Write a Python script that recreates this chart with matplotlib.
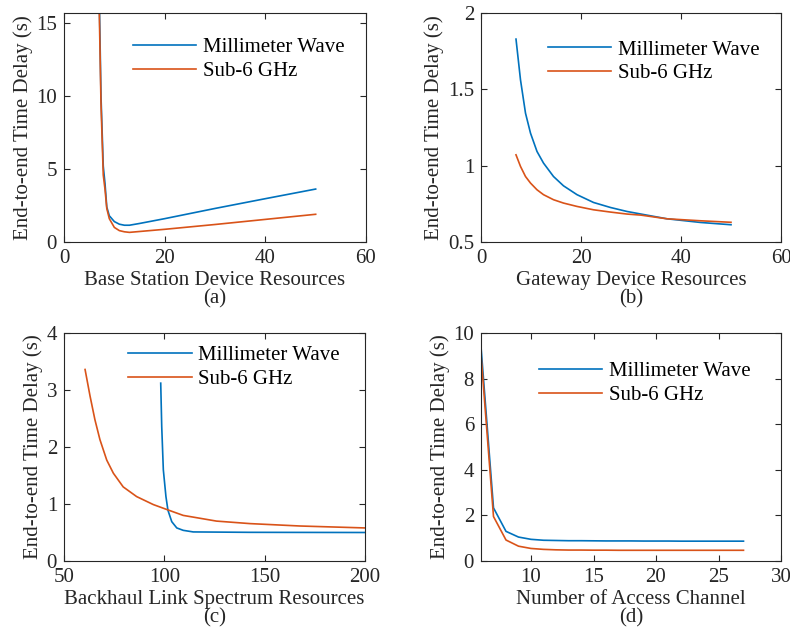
import numpy as np
import matplotlib
matplotlib.use("Agg")
import matplotlib.pyplot as plt

plt.rcParams["font.family"] = ["Liberation Serif", "DejaVu Serif"]
plt.rcParams["font.size"] = 15

BLUE = "#0072BD"
RED = "#D95319"
LABELS = ["Millimeter Wave", "Sub-6 GHz"]
YLABEL = "End-to-end Time Delay (s)"

# (a) base station device resources
bs_x = [7, 7.35, 7.8, 8.15, 8.5, 9, 10, 11, 12, 13, 15, 20, 30, 40, 50]
bs_mmw = [17, 10, 5.2, 4.0, 2.4, 1.8, 1.4, 1.22, 1.15, 1.15, 1.27, 1.6, 2.3, 2.97, 3.63]
bs_sub6 = [16, 9.5, 4.6, 3.6, 2.3, 1.6, 1.0, 0.78, 0.7, 0.66, 0.72, 0.87, 1.2, 1.55, 1.9]

# (b) gateway device resources
gw_x = [7, 7.9, 8.9, 9.9, 11.2, 12.5, 14.5, 16.5, 19.2, 22.5, 25.9, 29.2, 32, 37.2, 43.9, 50]
gw_mmw = [1.829, 1.562, 1.344, 1.213, 1.093, 1.017, 0.929, 0.868, 0.81, 0.759, 0.726,
          0.70, 0.683, 0.652, 0.628, 0.613]
gw_sub6 = [1.071, 0.995, 0.929, 0.886, 0.842, 0.81, 0.777, 0.755, 0.733, 0.711, 0.696,
           0.683, 0.676, 0.652, 0.639, 0.629]

# (c) backhaul link spectrum resources
bh_x_mmw = [98.2, 98.7, 99.5, 100.8, 101.8, 103.7, 106.2, 109.4, 114.4, 142.7, 200]
bh_mmw = [3.12, 2.36, 1.60, 1.13, 0.89, 0.69, 0.58, 0.538, 0.51, 0.503, 0.50]
bh_x_sub6 = [60.5, 63, 65.4, 67.9, 71.3, 74.6, 79.5, 86.2, 94.5, 101.5, 109.4, 126,
             142.7, 167.6, 200]
bh_sub6 = [3.36, 2.89, 2.48, 2.13, 1.77, 1.54, 1.30, 1.13, 0.99, 0.90, 0.80, 0.70,
           0.656, 0.614, 0.58]

# (d) number of access channel
ch_x = list(range(6, 28))
ch_mmw = [9.4, 2.33, 1.30, 1.05, 0.95, 0.91, 0.90, 0.89, 0.89, 0.885, 0.88, 0.88,
          0.88, 0.875, 0.875, 0.875, 0.87, 0.87, 0.87, 0.87, 0.87, 0.87]
ch_sub6 = [9.05, 1.95, 0.92, 0.65, 0.55, 0.51, 0.49, 0.48, 0.48, 0.475, 0.475, 0.47,
           0.47, 0.47, 0.47, 0.47, 0.47, 0.47, 0.47, 0.47, 0.47, 0.47]

W, H = 790, 638


def box(left, right, top, bottom):
    return [left / W, 1 - bottom / H, (right - left) / W, (bottom - top) / H]


fig = plt.figure(figsize=(7.9, 6.38), dpi=100)

panels = [
    dict(rect=box(64, 366, 13, 242), xlim=(0, 60), ylim=(0, 15.7),
         xticks=[0, 20, 40, 60], yticks=[0, 5, 10, 15],
         xlabel="Base Station Device Resources\n(a)",
         series=[(bs_x, bs_mmw), (bs_x, bs_sub6)], leg=(0.228, 0.893)),
    dict(rect=box(481, 781, 13, 242), xlim=(0, 60), ylim=(0.5, 2),
         xticks=[0, 20, 40, 60], yticks=[0.5, 1, 1.5, 2],
         xlabel="Gateway Device Resources\n(b)",
         series=[(gw_x, gw_mmw), (gw_x, gw_sub6)], leg=(0.223, 0.882)),
    dict(rect=box(64, 365, 333, 561), xlim=(50, 200), ylim=(0, 4),
         xticks=[50, 100, 150, 200], yticks=[0, 1, 2, 3, 4],
         xlabel="Backhaul Link Spectrum Resources\n(c)",
         series=[(bh_x_mmw, bh_mmw), (bh_x_sub6, bh_sub6)], leg=(0.213, 0.944)),
    dict(rect=box(481, 781, 333, 561), xlim=(6, 30), ylim=(0, 10),
         xticks=[10, 15, 20, 25, 30], yticks=[0, 2, 4, 6, 8, 10],
         xlabel="Number of Access Channel\n(d)",
         series=[(ch_x, ch_mmw), (ch_x, ch_sub6)], leg=(0.193, 0.875)),
]

for p in panels:
    ax = fig.add_axes(p["rect"])
    for (x, y), c, lab in zip(p["series"], [BLUE, RED], LABELS):
        ax.plot(x, y, color=c, lw=1.2, label=lab)
    ax.set_xlim(*p["xlim"])
    ax.set_ylim(*p["ylim"])
    ax.set_xticks(p["xticks"])
    ax.set_yticks(p["yticks"])
    ax.set_yticklabels([f"{v:g}" for v in p["yticks"]])
    ax.tick_params(direction="in", top=True, right=True, length=4,
                   width=0.8, colors="#262626", labelcolor="#262626")
    ax.tick_params(axis="x", pad=5)
    ax.tick_params(axis="y", pad=5)
    for s in ax.spines.values():
        s.set_color("#262626")
        s.set_linewidth(0.8)
    ax.set_xlabel(p["xlabel"], linespacing=0.95, labelpad=2, color="#262626")
    ax.set_ylabel(YLABEL, labelpad=2.5, color="#262626")
    ax.legend(loc="upper left", bbox_to_anchor=p["leg"], frameon=False,
              borderpad=0, borderaxespad=0, handlelength=3.05,
              handletextpad=0.3, labelspacing=0.2)

fig.savefig("out.png", dpi=100)
